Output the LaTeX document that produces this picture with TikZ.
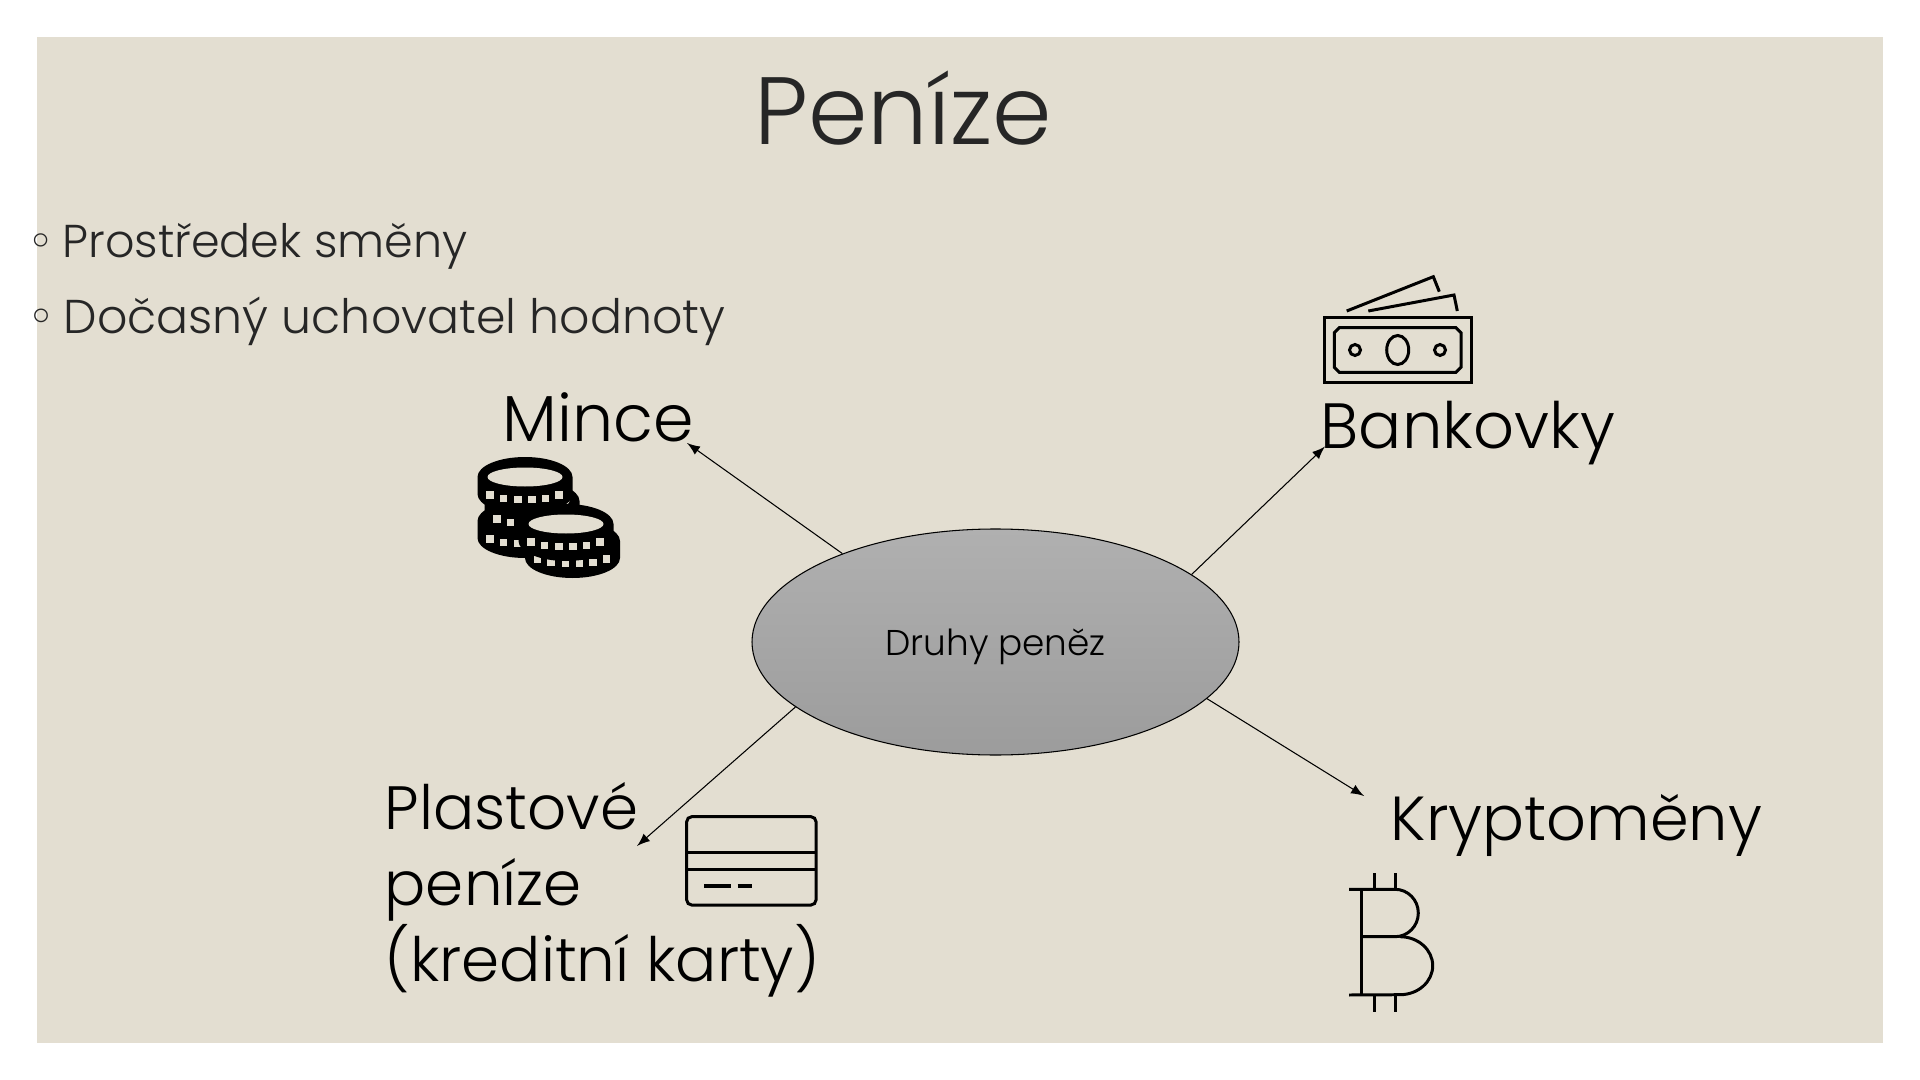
\documentclass[tikz,border=0pt]{standalone}
\usepackage{fontspec}
\usetikzlibrary{positioning}
\usetikzlibrary{shapes.geometric}
\setmainfont{Poppins Light}
\newfontfamily\symfont{DejaVu Sans}
\definecolor{panelbg}{HTML}{E3DED1}
\definecolor{titlecol}{HTML}{262626}
\definecolor{ovaltop}{HTML}{B0B0B0}
\definecolor{ovalbot}{HTML}{9C9C9C}
\tikzset{
  label/.style={inner sep=0pt, anchor=base west, font=\fontsize{#1}{21.6}\selectfont},
  bulletline/.style={inner sep=0pt, anchor=base west, font=\fontsize{#1}{16}\selectfont},
  arrowline/.style={-latex, color=black, line width=.3pt},
  iconline/.style={color=black, line width=.85pt},
}
% one coin of the pile, (x,y) = middle of its top face
\newcommand{\coin}[2]{
\begin{scope}[shift={(#1,#2)}]
\fill[black] (-.475,0) arc[start angle=180, end angle=0, x radius=.475, y radius=.2]
  -- (.475,-.17) arc[start angle=0, end angle=-180, x radius=.475, y radius=.2] -- cycle;
\fill[panelbg] (0,0) ellipse [x radius=.375, y radius=.095];
\foreach \tx/\ty in {-.35/.18,-.215/.215,-.07/.225,.07/.225,.205/.215,.34/.18}
  \fill[panelbg] (\tx-.036,-\ty+.036) rectangle (\tx+.036,-\ty-.036);
\end{scope}
}
\begin{document}
\begin{tikzpicture}
\useasboundingbox (0,0) rectangle (19.2,-10.8);
\fill[panelbg] (.37,-.37) rectangle (18.83,-10.43);

\node(title)[inner sep=0pt, anchor=base, color=titlecol, font=\fontsize{27.2}{32}\selectfont] at (9.03,-1.445) {Peníze};
\node(smena)[bulletline=13.1, color=titlecol] at (.27,-2.58) {{\symfont ◦}\kern-.05cm\ Prostředek směny};
\node(hodnota)[bulletline=13.5, color=titlecol, below=of smena.base west, anchor=base west, yshift=.24cm] {{\symfont ◦}\kern-.05cm\ Dočasný uchovatel hodnoty};

\node(oval)[draw, ellipse, inner sep=0pt, minimum width=4.87cm, minimum height=2.26cm, top color=ovaltop, bottom color=ovalbot, line width=.3pt, font=\fontsize{10.2}{12}\selectfont] at (9.955,-6.42) {\raisebox{-1.4pt}[7.5pt][2.5pt]{Druhy peněz}};

\node(mince)[label=18.5] at (5.02,-4.41) {Mince};
\node(bankovky)[label=18.2] at (13.2,-4.49) {Bankovky};
\node(krypto)[label=17.7] at (13.9,-8.40) {Kryptoměny};
\node(plastove)[label=17.4, align=left, anchor=north west] at (3.84,-7.82) {Plastové\\peníze\\(kreditní karty)};

\coordinate(kryptotip) at (13.64,-7.96);
\coordinate(plastovetip) at (6.37,-8.46);

\draw[arrowline] (oval.150.8)--([xshift=-.075cm,yshift=-.02cm]mince.base east);
\draw[arrowline] (oval.19.5)--([xshift=.05cm,yshift=.025cm]bankovky.base west);
\draw[arrowline] (oval.-15.9)--(kryptotip);
\draw[arrowline] (oval.198.1)--(plastovetip);

% coins
\coin{5.25}{-5.21}
\coin{5.32}{-5.01}
\coin{5.25}{-4.77}
\coin{5.725}{-5.41}
\coin{5.66}{-5.24}

% banknote
\draw[iconline] (13.24,-3.173) rectangle (14.71,-3.827);
\draw[iconline] (13.393,-3.277)--(14.56,-3.277)--(14.61,-3.327)--(14.61,-3.673)--(14.56,-3.723)--(13.393,-3.723)--(13.343,-3.673)--(13.343,-3.327)--cycle;
\draw[iconline] (13.977,-3.5) ellipse [x radius=.11, y radius=.145];
\draw[iconline] (13.55,-3.5) circle (.055);
\draw[iconline] (14.4,-3.5) circle (.055);
\draw[iconline] (13.467,-3.11)--(14.333,-2.767)--(14.393,-2.917);
\draw[iconline] (13.683,-3.11)--(14.54,-2.95)--(14.573,-3.11);

% card
\draw[iconline, rounded corners=.05cm] (6.867,-8.167) rectangle (8.16,-9.05);
\draw[iconline, line width=1pt] (6.867,-8.523)--(8.16,-8.523);
\draw[iconline] (6.867,-8.69)--(8.16,-8.69);
\draw[iconline, line width=1.1pt] (7.04,-8.86)--(7.31,-8.86);
\draw[iconline, line width=1.1pt] (7.377,-8.86)--(7.517,-8.86);

% bitcoin
\draw[iconline] (13.61,-8.9)--(13.61,-9.95);
\draw[iconline] (13.49,-8.893)--(13.95,-8.893) arc[start angle=90, end angle=-90, x radius=.233, y radius=.237] -- (13.61,-9.367);
\draw[iconline] (14.0,-9.367) arc[start angle=90, end angle=-90, x radius=.327, y radius=.29] -- (13.49,-9.95);
\draw[iconline] (13.743,-8.733)--(13.743,-8.893);
\draw[iconline] (13.95,-8.733)--(13.95,-8.893);
\draw[iconline] (13.743,-9.95)--(13.743,-10.117);
\draw[iconline] (13.95,-9.95)--(13.95,-10.117);
\end{tikzpicture}
\end{document}
